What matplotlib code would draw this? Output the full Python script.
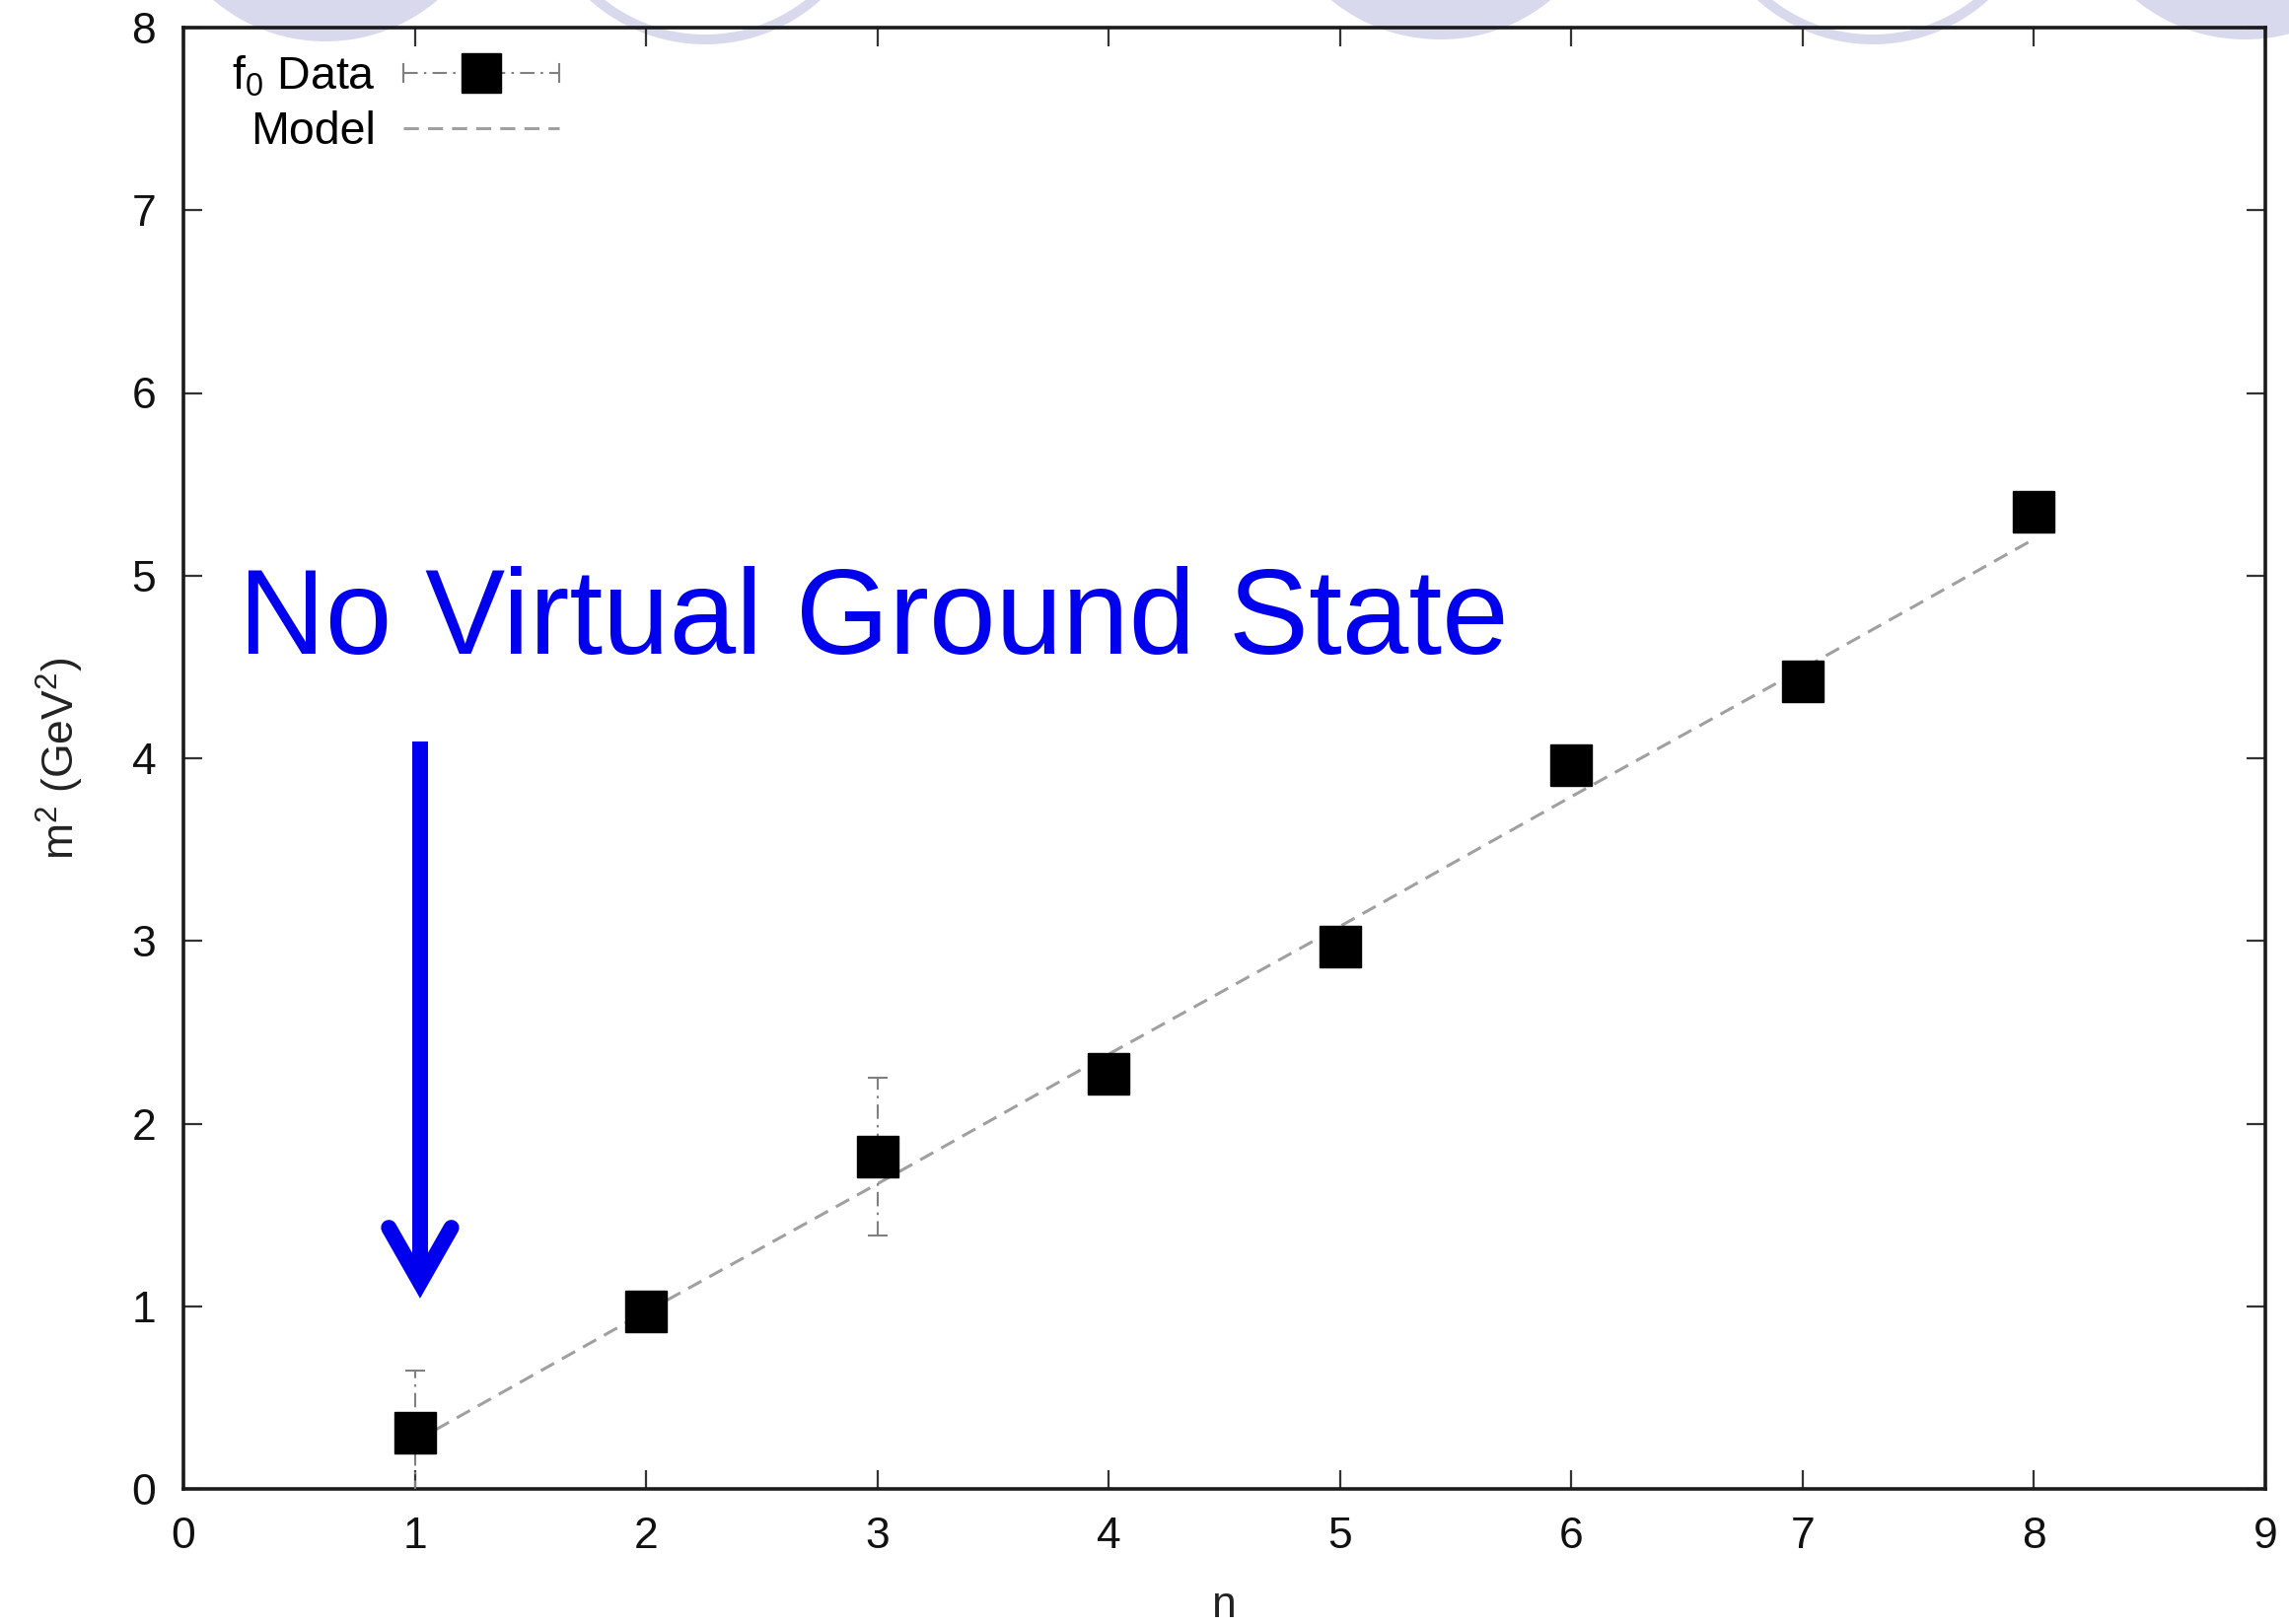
import matplotlib
matplotlib.use("Agg")
import matplotlib.pyplot as plt
from matplotlib.legend_handler import HandlerBase
from matplotlib.lines import Line2D
from matplotlib.patches import Ellipse

# f0 spectrum: radial number vs mass squared
n_levels = [1, 2, 3, 4, 5, 6, 7, 8]
m2_data = [0.31, 0.97, 1.82, 2.27, 2.97, 3.96, 4.42, 5.35]
m2_err = [0.34, 0.0, 0.43, 0.0, 0.0, 0.0, 0.0, 0.0]
m2_model = [0.26, 0.97, 1.67, 2.38, 3.08, 3.79, 4.49, 5.20]

x_ticks = list(range(0, 10))
y_ticks = list(range(0, 9))

W, H = 2321, 1647
BLUE = "#0000EE"
LAVENDER = "#D9D9EE"
ERR_GRAY = "#808080"
MODEL_GRAY = "#A0A0A0"
ERR_DASH = (0, (7, 3, 1.2, 3))

plt.rcParams["font.family"] = ["Liberation Sans", "DejaVu Sans"]
plt.rcParams["mathtext.default"] = "regular"


class ErrorbarKey(HandlerBase):
    """gnuplot-like key sample: dash-dot bar with end caps and a square."""

    def create_artists(self, legend, orig_handle, xdescent, ydescent,
                       width, height, fontsize, trans):
        y = height / 2 - ydescent
        x0, x1 = -xdescent, width - xdescent
        cap = height * 0.28
        arts = [Line2D([x0, x1], [y, y], color=ERR_GRAY, lw=1.5,
                       linestyle=ERR_DASH)]
        for x in (x0, x1):
            arts.append(Line2D([x, x], [y - cap, y + cap], color=ERR_GRAY, lw=1.5))
        arts.append(Line2D([(x0 + x1) / 2], [y], marker="s", ms=29,
                           color="black", linestyle="none"))
        for a in arts:
            a.set_transform(trans)
        return arts


fig = plt.figure(figsize=(W / 100, H / 100), dpi=100)
fig.patch.set_facecolor("white")

# slide-template decoration peeking in at the top edge
deco_x = [330, 715, 1461, 1899, 2277]
deco_bottom = [42, 45, 40, 45, 40]
deco_filled = [True, False, True, False, True]
R = 175
for cx, by, filled in zip(deco_x, deco_bottom, deco_filled):
    cy = by - R
    if filled:
        e = Ellipse((cx / W, 1 - cy / H), 2 * R / W, 2 * R / H,
                    transform=fig.transFigure, facecolor=LAVENDER,
                    edgecolor="none", zorder=-1)
    else:
        r = R - 5
        e = Ellipse((cx / W, 1 - cy / H), 2 * r / W, 2 * r / H,
                    transform=fig.transFigure, facecolor="none",
                    edgecolor=LAVENDER, lw=7.2, zorder=-1)
    fig.add_artist(e)

ax = fig.add_axes([186 / W, 1 - 1510 / H, (2297 - 186) / W, (1510 - 28) / H])
ax.set_facecolor("none")

eb = ax.errorbar(n_levels, m2_data, yerr=m2_err, fmt="none", ecolor=ERR_GRAY,
                 elinewidth=1.5, capsize=7, capthick=1.5, zorder=3)
eb[2][0].set_linestyle(ERR_DASH)
model_line, = ax.plot(n_levels, m2_model, color=MODEL_GRAY, lw=2.2,
                      linestyle=(0, (5, 3)), zorder=2)
ax.plot(n_levels, m2_data, "s", color="black", ms=30, zorder=4)

ax.set_xlim(0, 9)
ax.set_ylim(0, 8)
ax.set_xticks(x_ticks)
ax.set_yticks(y_ticks)
ax.tick_params(direction="in", top=True, right=True, length=14, width=1.6,
               color="#333333", labelsize=32, labelcolor="#111111", pad=20)
for s in ax.spines.values():
    s.set_linewidth(2.6)
    s.set_color("#1A1A1A")

ax.set_xlabel("n", fontsize=32, color="#222222")
ax.xaxis.set_label_coords(0.5, -0.066)
ax.set_ylabel("m$^2$ (GeV$^2$)", fontsize=32, color="#222222")
ax.yaxis.set_label_coords(-0.047, 0.5)

proxy = Line2D([], [])
ax.legend([proxy, model_line], ["f$_0$ Data", "Model"],
          handler_map={proxy: ErrorbarKey()}, loc="upper right",
          bbox_to_anchor=(0.1805, 0.982), frameon=False, markerfirst=False,
          fontsize=33.5, handlelength=3.4, handletextpad=0.6,
          labelspacing=0.25, borderpad=0, borderaxespad=0)

# annotation
ax.text(0.24, 4.57, "No Virtual Ground State", color=BLUE, fontsize=87.5,
        ha="left", va="baseline", zorder=5)
arrow_x, arrow_top, arrow_tip = 1.023, 4.09, 1.13
head_w, head_len = 0.135, 0.3
ax.plot([arrow_x, arrow_x], [arrow_top, arrow_tip], color=BLUE, lw=11.5,
        solid_capstyle="butt", zorder=5)
ax.plot([arrow_x - head_w, arrow_x, arrow_x + head_w],
        [arrow_tip + head_len, arrow_tip, arrow_tip + head_len],
        color=BLUE, lw=11.5, solid_capstyle="round", solid_joinstyle="miter",
        zorder=5)

fig.savefig("out.png", dpi=100)
